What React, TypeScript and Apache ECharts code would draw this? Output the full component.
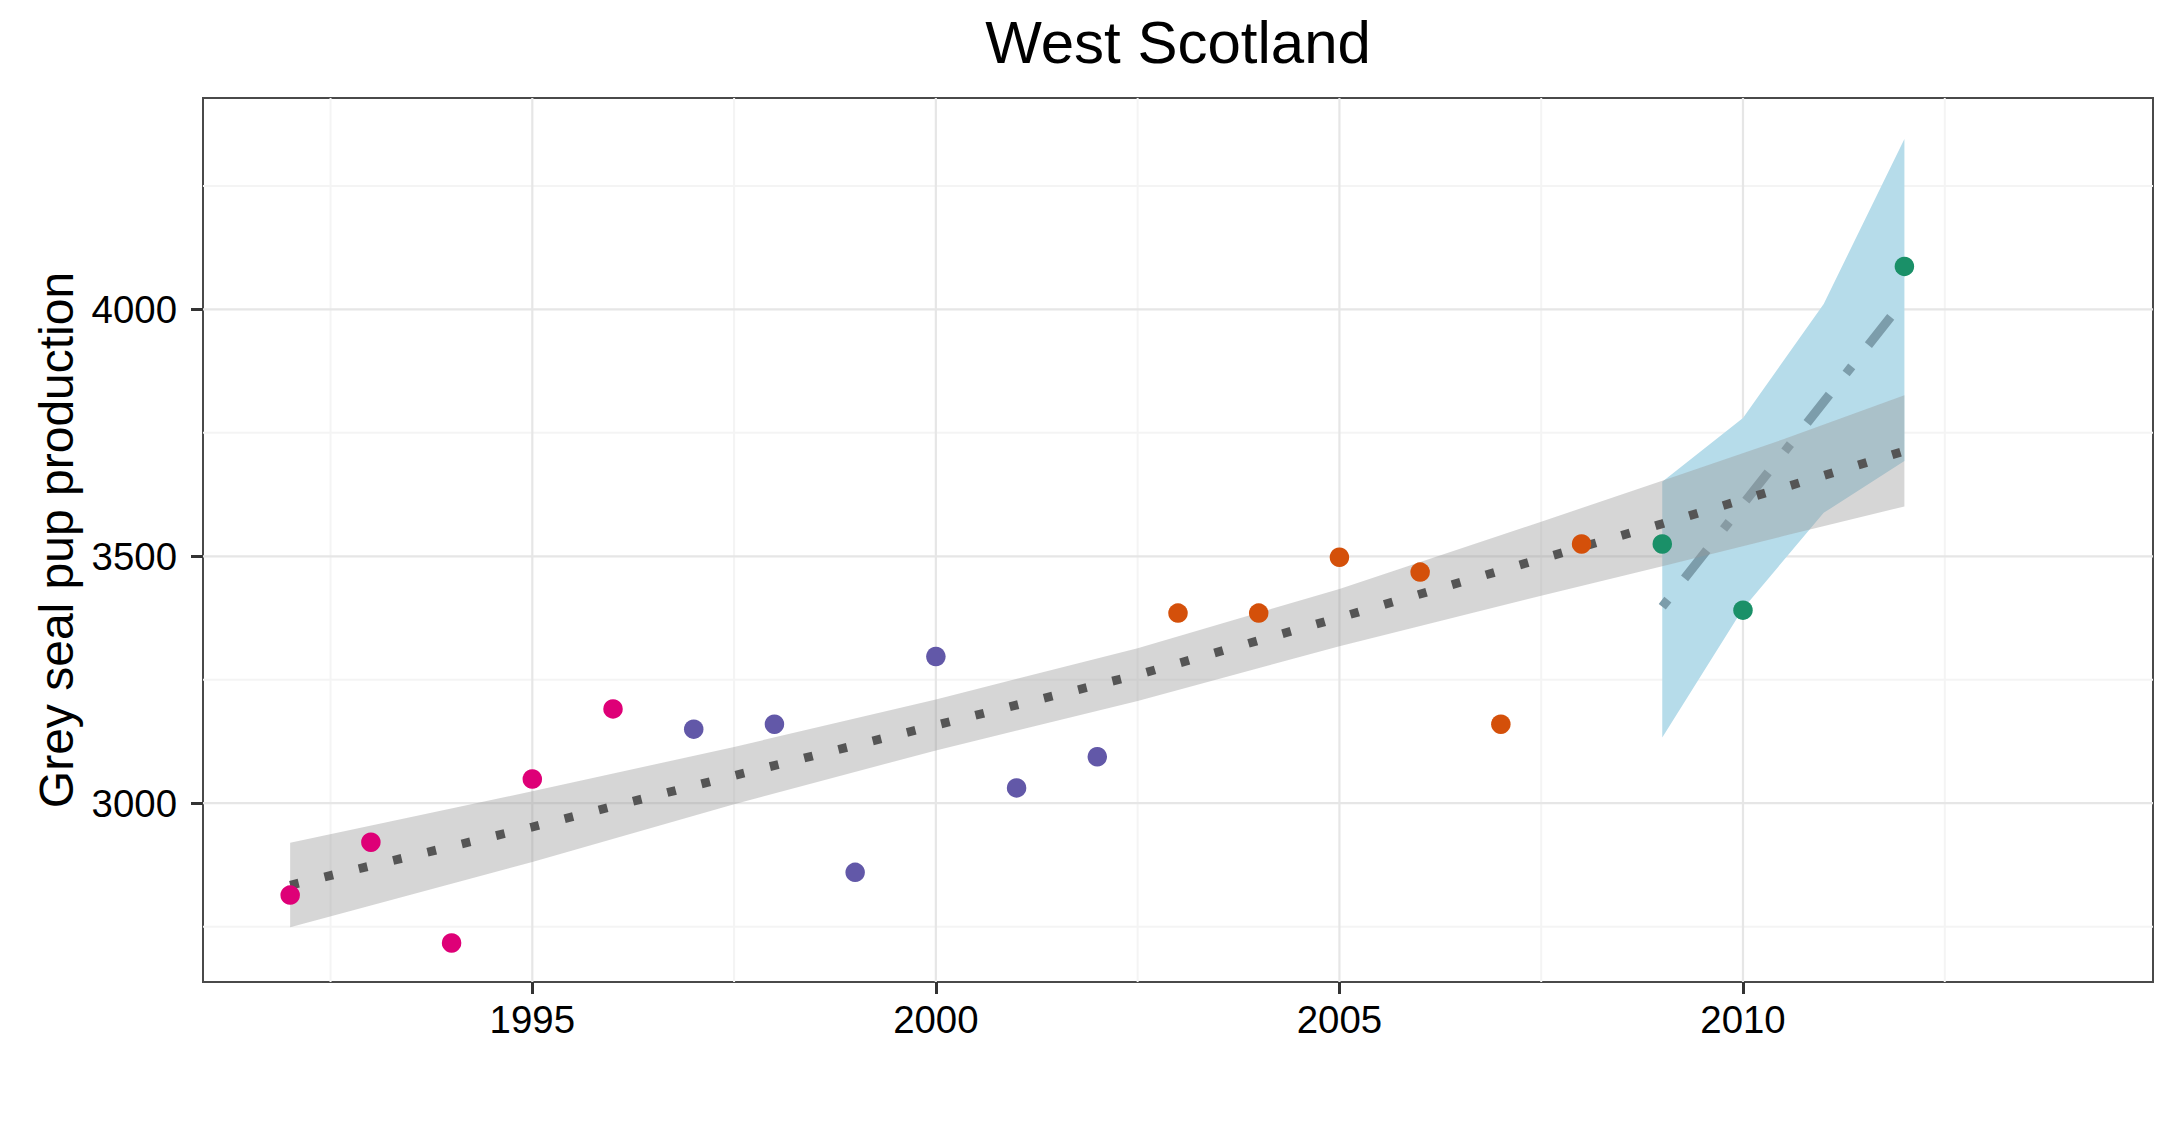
import React, { useEffect, useRef } from "react";
import * as echarts from "echarts";

// ---- texts ----
const chartTitle = "West Scotland";
const yAxisTitle = "Grey seal pup production";

// ---- observed pup production, by survey group ----
const pinkYears = [1992, 1993, 1994, 1995, 1996];
const pinkValues = [2814, 2921, 2717, 3049, 3191];
const purpleYears = [1997, 1998, 1999, 2000, 2001, 2002];
const purpleValues = [3150, 3160, 2860, 3297, 3031, 3094];
const orangeYears = [2003, 2004, 2005, 2006, 2007, 2008];
const orangeValues = [3385, 3385, 3498, 3468, 3160, 3525];
const greenYears = [2009, 2010, 2012];
const greenValues = [3525, 3391, 4087];

// ---- long-term trend (dotted) and its confidence band ----
const trendYears = [1992, 1995, 1997.5, 2000, 2002.5, 2005, 2007.5, 2009, 2010.5, 2012];
const trendFit = [2834, 2952, 3056, 3158, 3260, 3376, 3495, 3566, 3639, 3713];
const trendLower = [2749, 2881, 2998, 3107, 3207, 3318, 3420, 3480, 3541, 3601];
const trendUpper = [2920, 3024, 3114, 3210, 3314, 3434, 3570, 3653, 3737, 3826];

// ---- recent trend (dot-dash) and its band ----
const recentBandYears = [2009, 2010, 2011, 2012];
const recentLower = [3133, 3394, 3588, 3693];
const recentUpper = [3651, 3780, 4011, 4345];
const recentFitYears = [2009, 2012];
const recentFit = [3398, 4020];

// ---- axes ----
const xMin = 1990.92;
const xMax = 2015.08;
const yMin = 2638;
const yMax = 4428;
const xTicks = [1995, 2000, 2005, 2010];
const xMinorGrid = [1992.5, 1997.5, 2002.5, 2007.5, 2012.5];
const yTicks = [3000, 3500, 4000];
const yMinorGrid = [2750, 3250, 3750, 4250];

const FONT = "'Liberation Sans', Arial, Helvetica, sans-serif";

function pairs(xs: number[], ys: number[]) {
  return xs.map((x, i) => [x, ys[i]]);
}

function bandRenderer(xs: number[], lo: number[], hi: number[], fill: string) {
  return (params: any, api: any) => {
    if (params.dataIndex !== 0) return null;
    const pts: number[][] = [];
    for (let i = 0; i < xs.length; i++) pts.push(api.coord([xs[i], hi[i]]));
    for (let i = xs.length - 1; i >= 0; i--) pts.push(api.coord([xs[i], lo[i]]));
    return { type: "polygon", shape: { points: pts }, style: { fill }, silent: true };
  };
}

function vGrid(color: string, width: number) {
  return (_p: any, api: any) => {
    const v = api.value(0);
    const a = api.coord([v, yMin]);
    const b = api.coord([v, yMax]);
    return {
      type: "line",
      shape: { x1: a[0], y1: a[1], x2: b[0], y2: b[1] },
      style: { stroke: color, lineWidth: width },
      silent: true,
    };
  };
}

function hGrid(color: string, width: number) {
  return (_p: any, api: any) => {
    const v = api.value(1);
    const a = api.coord([xMin, v]);
    const b = api.coord([xMax, v]);
    return {
      type: "line",
      shape: { x1: a[0], y1: a[1], x2: b[0], y2: b[1] },
      style: { stroke: color, lineWidth: width },
      silent: true,
    };
  };
}

const MAJOR = "#E6E6E6";
const MINOR = "#F4F4F4";

export default function App() {
  const ref = useRef<HTMLDivElement>(null);

  useEffect(() => {
    document.body.style.margin = "0";
    if (!ref.current) return;
    const chart = echarts.init(ref.current, undefined, { renderer: "svg" });

    const scatter = (name: string, xs: number[], ys: number[], color: string) => ({
      name,
      type: "scatter",
      data: pairs(xs, ys),
      symbol: "circle",
      symbolSize: 19.5,
      itemStyle: { color, opacity: 1 },
      z: 10,
      silent: true,
    });

    chart.setOption({
      animation: false,
      backgroundColor: "#ffffff",
      title: {
        text: chartTitle,
        left: 1178,
        top: 12,
        textAlign: "center",
        padding: 0,
        textStyle: { fontSize: 60, fontWeight: "normal", color: "#000", fontFamily: FONT },
      },
      grid: {
        left: 203,
        right: 26,
        top: 98,
        bottom: 143,
        show: true,
        borderColor: "#4a4a4a",
        borderWidth: 2,
        backgroundColor: "transparent",
        containLabel: false,
        outerBoundsMode: "none",
      },
      xAxis: {
        type: "value",
        min: xMin,
        max: xMax,
        axisLine: { show: false },
        splitLine: { show: false },
        minorSplitLine: { show: false },
        axisTick: {
          show: true,
          length: 12,
          customValues: xTicks,
          lineStyle: { color: "#333", width: 3 },
        },
        axisLabel: {
          show: true,
          customValues: xTicks,
          margin: 18,
          fontSize: 38.4,
          color: "#000",
          fontFamily: FONT,
          formatter: (v: number) => String(v),
        },
      },
      yAxis: {
        type: "value",
        min: yMin,
        max: yMax,
        name: yAxisTitle,
        nameLocation: "middle",
        nameGap: 120,
        nameTextStyle: { fontSize: 48, color: "#000", fontFamily: FONT },
        axisLine: { show: false },
        splitLine: { show: false },
        minorSplitLine: { show: false },
        axisTick: {
          show: true,
          length: 12,
          customValues: yTicks,
          lineStyle: { color: "#333", width: 3 },
        },
        axisLabel: {
          show: true,
          customValues: yTicks,
          margin: 26,
          fontSize: 38.4,
          color: "#000",
          fontFamily: FONT,
          formatter: (v: number) => String(v),
        },
      },
      series: [
        {
          type: "custom",
          renderItem: vGrid(MINOR, 2),
          data: xMinorGrid.map((v) => [v, yMin]),
          z: 1,
          silent: true,
        },
        {
          type: "custom",
          renderItem: hGrid(MINOR, 2),
          data: yMinorGrid.map((v) => [xMin, v]),
          z: 1,
          silent: true,
        },
        {
          type: "custom",
          renderItem: vGrid(MAJOR, 2.2),
          data: xTicks.map((v) => [v, yMin]),
          z: 1,
          silent: true,
        },
        {
          type: "custom",
          renderItem: hGrid(MAJOR, 2.2),
          data: yTicks.map((v) => [xMin, v]),
          z: 1,
          silent: true,
        },
        {
          type: "custom",
          renderItem: bandRenderer(recentBandYears, recentLower, recentUpper, "#B6DCEA"),
          data: recentBandYears.map((x, i) => [x, recentLower[i], recentUpper[i]]),
          encode: { x: 0, y: [1, 2] },
          z: 2,
          silent: true,
        },
        {
          type: "line",
          data: pairs(recentFitYears, recentFit),
          symbol: "none",
          showSymbol: false,
          lineStyle: { color: "#7C9DAB", width: 9, type: [9, 27, 36, 27], cap: "butt" },
          z: 3,
          silent: true,
        },
        {
          type: "custom",
          renderItem: bandRenderer(trendYears, trendLower, trendUpper, "rgba(153,153,153,0.4)"),
          data: trendYears.map((x, i) => [x, trendLower[i], trendUpper[i]]),
          encode: { x: 0, y: [1, 2] },
          z: 4,
          silent: true,
        },
        {
          type: "line",
          data: pairs(trendYears, trendFit),
          symbol: "none",
          showSymbol: false,
          lineStyle: { color: "#555555", width: 8.8, type: [8.8, 26.5], cap: "butt" },
          z: 5,
          silent: true,
        },
        scatter("1992-1996", pinkYears, pinkValues, "#DE0077"),
        scatter("1997-2002", purpleYears, purpleValues, "#6258A8"),
        scatter("2003-2008", orangeYears, orangeValues, "#D4500A"),
        scatter("2009-2012", greenYears, greenValues, "#1A9068"),
      ],
    });

    return () => chart.dispose();
  }, []);

  return <div ref={ref} style={{ width: 2179, height: 1125 }} />;
}
